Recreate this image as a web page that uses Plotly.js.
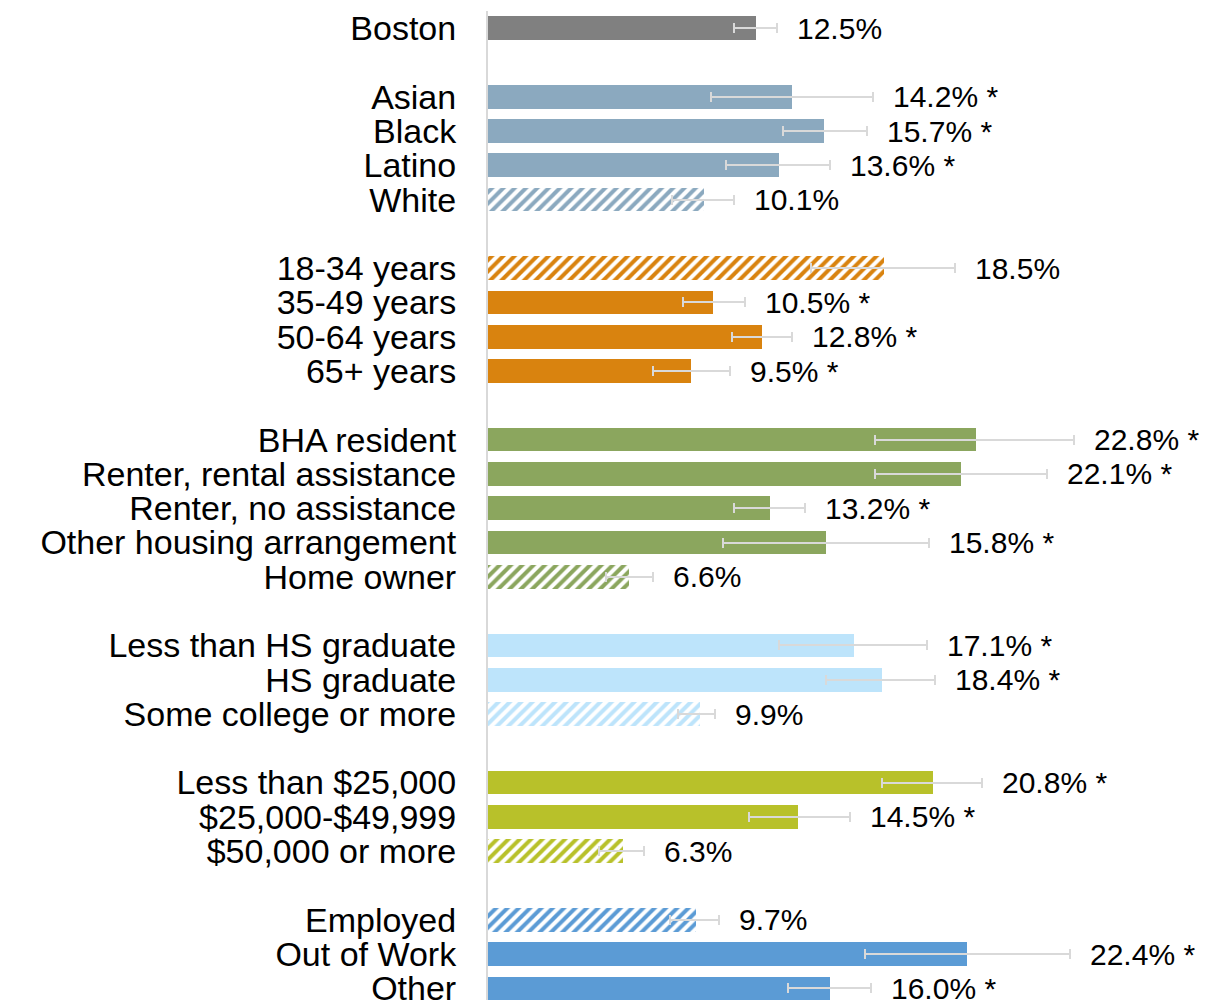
<!DOCTYPE html>
<html>
<head>
<meta charset="utf-8">
<script src="https://cdn.plot.ly/plotly-3.0.1.min.js"></script>
<style>html,body{margin:0;padding:0;background:#fff;}#chart{width:1205px;height:1000px;}</style>
</head>
<body>
<div id="chart"></div>
<script>
const categories = ['Boston','Asian','Black','Latino','White','18-34 years','35-49 years','50-64 years','65+ years','BHA resident','Renter, rental assistance','Renter, no assistance','Other housing arrangement','Home owner','Less than HS graduate','HS graduate','Some college or more','Less than $25,000','$25,000-$49,999','$50,000 or more','Employed','Out of Work','Other'];
const groupIds = [0,1,1,1,1,2,2,2,2,3,3,3,3,3,4,4,4,5,5,5,6,6,6];
const values = [12.5,14.2,15.7,13.6,10.1,18.5,10.5,12.8,9.5,22.8,22.1,13.2,15.8,6.6,17.1,18.4,9.9,20.8,14.5,6.3,9.7,22.4,16.0];
const ciLow = [11.5,10.4,13.8,11.1,8.6,15.1,9.1,11.4,7.7,18.1,18.1,11.5,11.0,5.5,13.6,15.8,8.9,18.4,12.2,5.2,8.5,17.6,14.0];
const ciHigh = [13.5,18.0,17.7,16.0,11.5,21.8,12.0,14.2,11.3,27.4,26.1,14.8,20.6,7.7,20.5,20.9,10.6,23.1,16.9,7.3,10.8,27.2,17.9];
const significant = [false,true,true,true,false,false,true,true,true,true,true,true,true,false,true,true,false,true,true,false,false,true,true];
const referenceGroup = [false,false,false,false,true,true,false,false,false,false,false,false,false,true,false,false,true,false,false,true,true,false,false];
const groupColors = ['#808080','#8BA9BF','#D9830F','#8BA65E','#BDE4FB','#B8C12A','#5B9BD5'];

// slot positions: consecutive within a group, one empty slot between groups
const positions = [];
let slot = 0;
groupIds.forEach((g, i) => {
  if (i > 0 && g !== groupIds[i - 1]) slot += 1;
  positions.push(slot);
  slot += 1;
});

const FONT = 'Liberation Sans, Arial, sans-serif';
const traces = groupColors.map((color, g) => {
  const idx = groupIds.map((gg, i) => gg === g ? i : -1).filter(i => i >= 0);
  return {
    type: 'bar',
    orientation: 'h',
    x: idx.map(i => values[i]),
    y: idx.map(i => positions[i]),
    width: 0.69,
    marker: {
      color: color,
      line: {width: 0},
      pattern: {
        shape: idx.map(i => referenceGroup[i] ? '/' : ''),
        fgcolor: color,
        bgcolor: '#ffffff',
        size: 8,
        solidity: 0.5,
        fillmode: 'replace'
      }
    },
    error_x: {
      type: 'data',
      symmetric: false,
      array: idx.map(i => ciHigh[i] - values[i]),
      arrayminus: idx.map(i => values[i] - ciLow[i]),
      color: '#d9d9d9',
      thickness: 2,
      width: 5
    },
    hoverinfo: 'skip',
    showlegend: false
  };
});

const annotations = values.map((v, i) => ({
  x: Math.max(ciHigh[i], v),
  y: positions[i],
  xref: 'x', yref: 'y',
  text: v.toFixed(1) + '%' + (significant[i] ? ' *' : ''),
  showarrow: false,
  xanchor: 'left',
  yanchor: 'middle',
  xshift: 18,
  font: {family: FONT, size: 30, color: '#000'}
}));

const plotWidth = 1205 - 488;
const layout = {
  width: 1205,
  height: 1000,
  margin: {l: 488, r: 0, t: 11, b: 0, pad: 0},
  paper_bgcolor: '#ffffff',
  plot_bgcolor: '#ffffff',
  bargap: 0,
  xaxis: {
    range: [0, plotWidth / 21.4],
    visible: false,
    fixedrange: true
  },
  yaxis: {
    range: [28.34, -0.5],
    tickmode: 'array',
    tickvals: positions,
    ticktext: categories,
    showgrid: false,
    zeroline: false,
    showline: true,
    linecolor: '#d9d9d9',
    linewidth: 2,
    ticks: '',
    ticklabelstandoff: 23,
    ticklabeloverflow: 'allow',
    tickfont: {family: FONT, size: 34, color: '#000'},
    fixedrange: true
  },
  annotations: annotations
};

Plotly.newPlot('chart', traces, layout, {displayModeBar: false, staticPlot: true});
</script>
</body>
</html>
